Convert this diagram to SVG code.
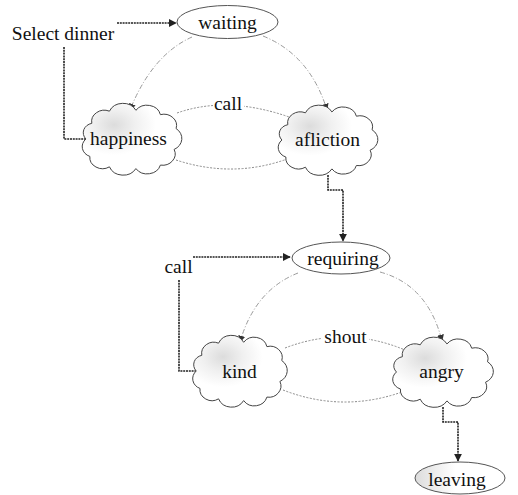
<svg xmlns="http://www.w3.org/2000/svg" width="518" height="495" viewBox="0 0 518 495">
<style>
text{font-family:"Liberation Serif","Times New Roman",serif;font-size:19.5px;fill:#111;text-anchor:middle}
.node{fill:#fff;stroke:#555;stroke-width:1}
.cloud{fill:url(#cg);stroke:#444;stroke-width:1;vector-effect:non-scaling-stroke}
.solid{fill:none;stroke:#222;stroke-width:1.6;stroke-dasharray:2 0.8}
.curve{fill:none;stroke:#9a9a9a;stroke-width:1;stroke-dasharray:5 2 1 2}
.arc{fill:none;stroke:#8a8a8a;stroke-width:1;stroke-dasharray:2 1.5}
</style>
<defs>
<radialGradient id="cg" cx="0.32" cy="0.3" r="0.42">
<stop offset="0" stop-color="#dcdcdc"/>
<stop offset="0.5" stop-color="#f0f0f0"/>
<stop offset="1" stop-color="#fff"/>
</radialGradient>
<linearGradient id="lg" x1="0" y1="0" x2="1" y2="0">
<stop offset="0" stop-color="#dcdcdc"/>
<stop offset="0.45" stop-color="#fff"/>
</linearGradient>
<marker id="ah" viewBox="0 0 10 10" refX="9" refY="5" markerWidth="8" markerHeight="8" markerUnits="userSpaceOnUse" orient="auto">
<path d="M0,0 L10,5 L0,10 z" fill="#222"/>
</marker>
<marker id="ahs" viewBox="0 0 10 10" refX="9" refY="5" markerWidth="7" markerHeight="7" markerUnits="userSpaceOnUse" orient="auto">
<path d="M0,0 L10,5 L0,10 z" fill="#333"/>
</marker>
<path id="cloud" class="cloud" d="M-40,-18 A13,13 0 0 1 -22,-32 A15,15 0 0 1 5,-33 A14,14 0 0 1 30,-28 A13,13 0 0 1 46,-12 A14,14 0 0 1 44,12 A13,13 0 0 1 30,30 A14,14 0 0 1 5,34 A15,15 0 0 1 -22,32 A13,13 0 0 1 -42,20 A12,12 0 0 1 -46,0 A11,11 0 0 1 -40,-18 Z"/>
</defs>
<rect width="518" height="495" fill="#fff"/>

<g id="connectors">
<path class="solid" d="M117,23 H176" marker-end="url(#ah)"/>
<path class="solid" d="M64,47 V139 H86"/>
<path class="curve" d="M192,37 Q152,55 130,110" marker-end="url(#ahs)"/>
<path class="curve" d="M263,36 Q310,55 327,110" marker-end="url(#ahs)"/>
<path class="arc" d="M177,113 Q228,95 292,118"/>
<path class="arc" d="M176,160 Q234,179 290,158"/>
<rect x="213" y="95" width="31" height="17" fill="#fff"/>
<text x="228" y="110">call</text>
<path class="solid" d="M328,175 V190 H343 V241" marker-end="url(#ah)"/>
<path class="solid" d="M193,257 H290" marker-end="url(#ah)"/>
<path class="solid" d="M179,280 V371 H200"/>
<path class="curve" d="M298,273 Q255,290 240,342" marker-end="url(#ahs)"/>
<path class="curve" d="M380,272 Q428,285 442,341" marker-end="url(#ahs)"/>
<path class="arc" d="M285,348 Q345,325 405,350"/>
<path class="arc" d="M283,390 Q342,413 402,392"/>
<rect x="322" y="328" width="47" height="17" fill="#fff"/>
<text x="345.5" y="343">shout</text>
<path class="solid" d="M443,407 V422 H458 V461" marker-end="url(#ah)"/>
</g>

<g id="select-dinner"><text x="63" y="40">Select dinner</text></g>
<g id="call-event"><text x="178.5" y="273">call</text></g>

<g id="waiting">
<ellipse class="node" cx="227.5" cy="22" rx="50.5" ry="16.5"/>
<text x="227.5" y="29">waiting</text>
</g>
<g id="happiness">
<use href="#cloud" transform="translate(131,139) scale(0.98,0.87)"/>
<text x="128.5" y="145">happiness</text>
</g>
<g id="afliction">
<use href="#cloud" transform="translate(327,140) scale(0.98,0.85)"/>
<text x="327.5" y="146">afliction</text>
</g>
<g id="requiring">
<ellipse class="node" cx="341" cy="258" rx="49" ry="16"/>
<text x="343" y="265">requiring</text>
</g>
<g id="kind">
<use href="#cloud" transform="translate(239,371) scale(0.93,0.87)"/>
<text x="239.5" y="378">kind</text>
</g>
<g id="angry">
<use href="#cloud" transform="translate(442,372) scale(0.99,0.85)"/>
<text x="441.5" y="378">angry</text>
</g>
<g id="leaving">
<ellipse cx="460" cy="478" rx="45" ry="16" fill="url(#lg)" stroke="#555" stroke-width="1"/>
<text x="457" y="486">leaving</text>
</g>
</svg>
